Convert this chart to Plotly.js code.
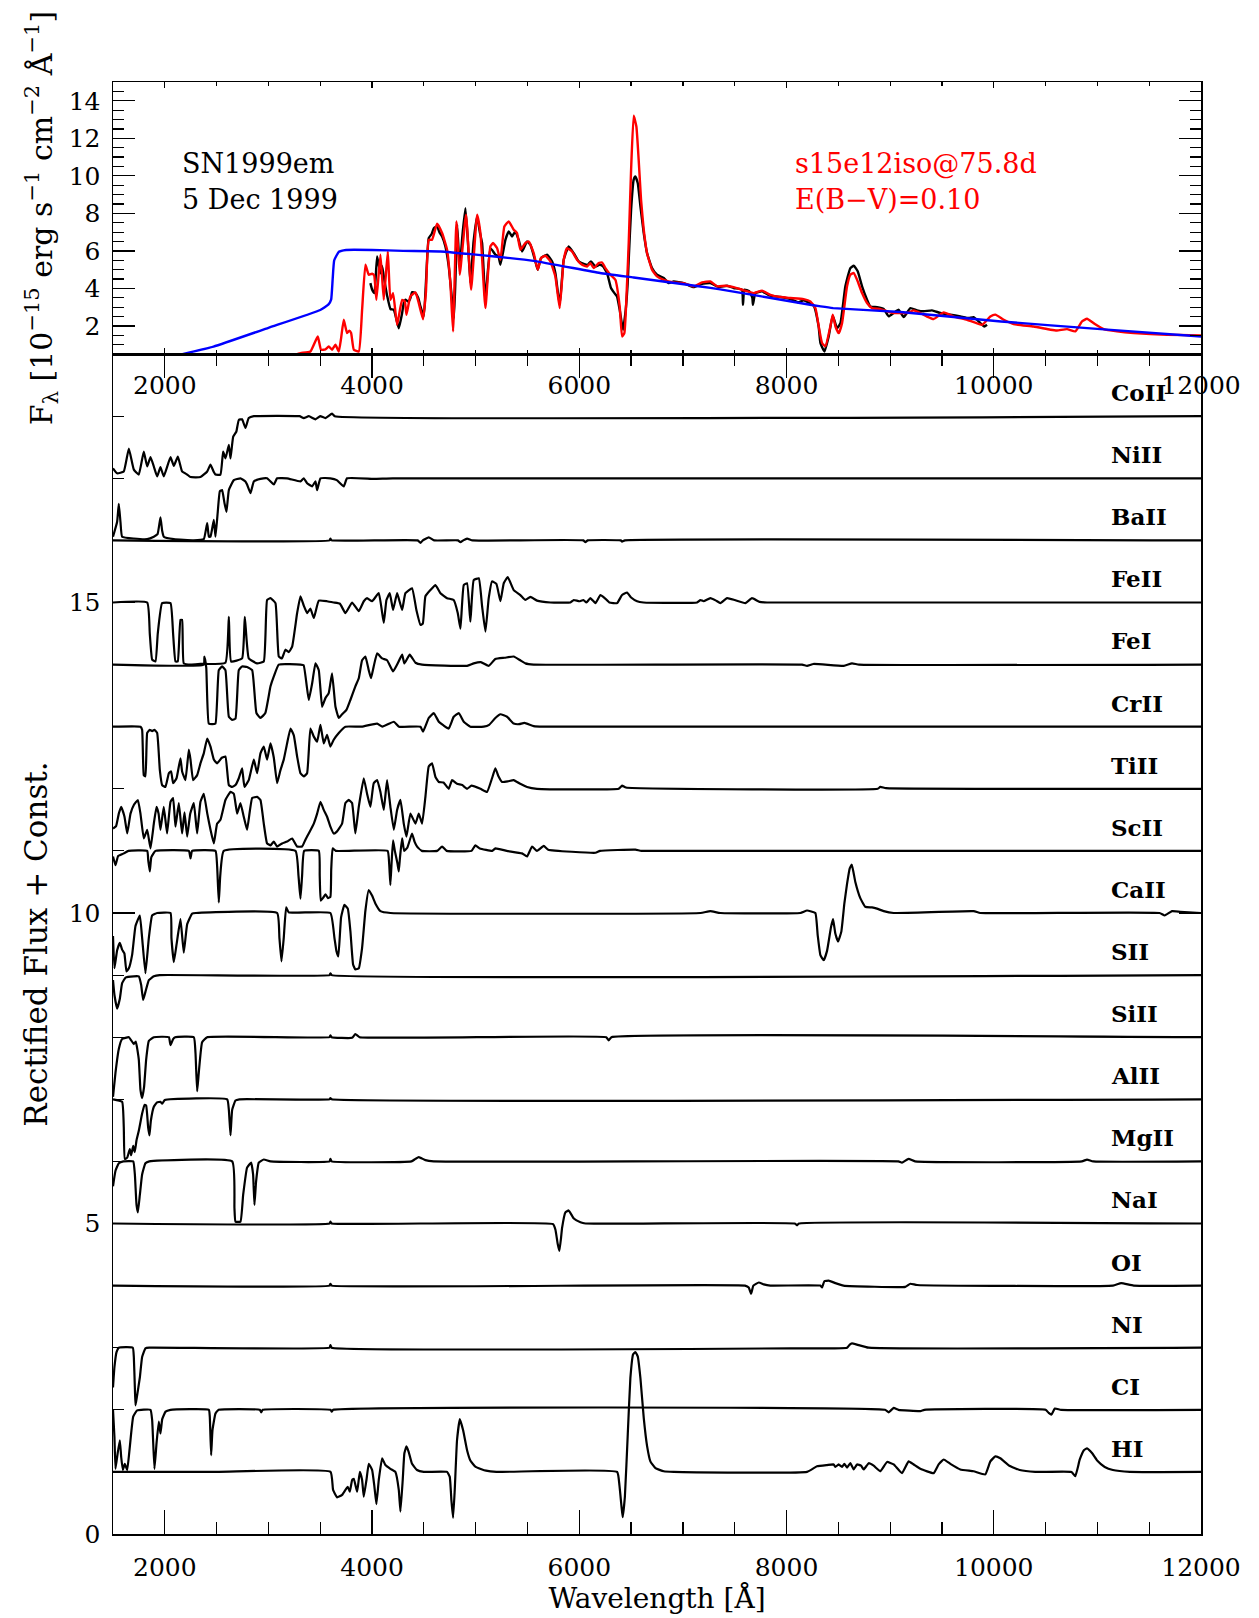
<!DOCTYPE html>
<html>
<head>
<meta charset="utf-8">
<script src="https://cdn.plot.ly/plotly-3.0.1.min.js"></script>
<style>
  html, body { margin: 0; padding: 0; background: #ffffff; }
  #chart { width: 1259px; height: 1618px; }
</style>
</head>
<body>
<div id="chart"></div>
<script>
// SN1999em, 5 Dec 1999: observed spectrum, model and continuum (upper panel),
// plus the rectified contribution of each ion, offset by one unit per ion (lower panel).

// ---------- upper panel: [wavelength (Å), F_lambda (1e-15 erg/s/cm2/Å)] ----------
const observed = [
  [3984,4.28],[4001,3.93],[4023,3.75],[4049,5.7],[4081,4.8],[4097,5.2],[4120,4.4],[4146,3.6],
  [4178,2.9],[4210,2.86],[4258,1.88],[4290,2.68],[4306,3.22],[4322,3.4],[4350,3.3],[4370,3.48],
  [4387,3.8],[4419,3.75],[4445,3.5],[4467,3.04],[4499,2.51],[4520,4.3],[4547,6.68],[4575,6.9],
  [4596,7.21],[4628,7.3],[4650,7.0],[4676,6.77],[4708,6.24],[4740,5.17],[4772,3.39],[4790,2.4],
  [4805,4.5],[4821,7.39],[4846,5.17],[4875,7.0],[4901,8.28],[4925,6.5],[4949,4.28],[4980,6.5],
  [5014,7.84],[5040,7.0],[5062,6.42],[5094,3.39],[5142,6.15],[5190,5.8],[5220,5.7],[5239,5.26],
  [5287,6.59],[5319,7.04],[5351,6.77],[5383,7.04],[5415,6.59],[5448,5.97],[5496,6.5],[5528,6.33],
  [5576,5.44],[5599,4.99],[5631,5.62],[5689,5.8],[5737,5.44],[5769,4.82],[5811,3.13],[5850,5.53],
  [5898,6.24],[5946,5.88],[5994,5.44],[6043,5.31],[6081,5.26],[6113,5.44],[6155,5.17],[6197,5.26],
  [6229,5.17],[6268,4.82],[6306,4.02],[6339,3.75],[6364,3.57],[6390,2.86],[6422,1.8],[6448,2.86],
  [6467,4.28],[6477,5.53],[6500,8.2],[6525,9.8],[6541,9.97],[6564,9.62],[6590,8.37],[6622,6.95],
  [6654,5.88],[6702,5.09],[6750,4.73],[6815,4.55],[6863,4.28],[6911,4.37],[7008,4.28],[7104,4.07],
  [7185,4.25],[7265,4.28],[7345,4.07],[7426,4.14],[7490,4.02],[7570,3.93],[7580,3.13],[7593,3.93],
  [7640,3.85],[7670,3.5],[7676,3.13],[7699,3.75],[7764,3.84],[7844,3.61],[7941,3.54],[8037,3.43],
  [8117,3.26],[8165,3.36],[8262,3.08],[8310,1.97],[8327,1.09],[8366,0.64],[8407,1.44],[8446,2.54],
  [8488,1.88],[8520,2.15],[8568,4.11],[8616,5.08],[8649,5.21],[8687,4.91],[8729,4.11],[8777,3.4],
  [8809,3.04],[8874,3.0],[8938,2.9],[8986,2.51],[9034,2.69],[9083,2.86],[9131,2.47],[9195,2.95],
  [9260,2.83],[9324,2.78],[9404,2.83],[9485,2.69],[9581,2.6],[9678,2.51],[9758,2.42],[9806,2.47],
  [9871,2.15],[9909,1.97],[9935,2.06]
];

const model = [
  [3250,0.45],[3309,0.55],[3405,0.64],[3476,1.44],[3508,0.73],[3550,0.75],[3582,0.91],[3614,0.73],
  [3647,1.0],[3679,0.64],[3700,1.3],[3727,2.33],[3759,1.62],[3780,1.75],[3798,1.62],[3824,0.73],
  [3872,0.64],[3904,2.86],[3936,5.26],[3968,4.73],[4000,4.78],[4020,4.7],[4042,3.39],[4081,5.79],
  [4113,3.39],[4152,5.97],[4177,3.39],[4203,3.75],[4242,2.06],[4290,3.39],[4316,3.31],[4332,2.6],
  [4370,3.57],[4419,3.79],[4451,3.22],[4492,2.36],[4520,3.8],[4547,6.59],[4579,6.59],[4628,7.45],
  [4676,6.95],[4724,6.06],[4756,4.28],[4782,1.71],[4814,7.57],[4846,4.73],[4907,7.93],[4956,3.93],
  [5014,7.93],[5046,6.95],[5094,2.95],[5142,6.24],[5168,6.42],[5206,6.15],[5239,5.53],[5277,7.3],
  [5319,7.57],[5367,7.13],[5399,6.95],[5432,6.06],[5480,6.42],[5512,6.5],[5560,5.88],[5599,4.99],
  [5631,5.62],[5673,5.74],[5721,5.44],[5769,4.64],[5811,2.95],[5850,5.53],[5882,6.15],[5930,5.97],
  [5978,5.53],[6027,5.26],[6075,5.17],[6107,5.35],[6139,5.08],[6187,5.35],[6220,5.38],[6252,5.08],
  [6300,4.73],[6348,4.46],[6390,3.04],[6413,1.44],[6435,1.62],[6461,4.28],[6477,6.42],[6500,10.33],
  [6525,13.2],[6551,12.63],[6573,10.86],[6596,8.73],[6622,7.13],[6654,5.88],[6702,5.0],[6750,4.64],
  [6815,4.46],[6911,4.32],[7008,4.28],[7104,4.11],[7185,4.32],[7265,4.37],[7329,4.11],[7410,4.14],
  [7490,4.07],[7587,3.9],[7683,3.75],[7764,3.88],[7844,3.66],[7941,3.54],[8037,3.49],[8165,3.43],
  [8230,3.31],[8279,2.95],[8311,1.97],[8343,1.09],[8375,0.91],[8423,1.97],[8446,2.6],[8472,1.97],
  [8504,1.62],[8536,2.15],[8584,4.11],[8616,4.73],[8649,4.82],[8681,4.46],[8729,3.75],[8777,3.22],
  [8825,2.95],[8906,2.9],[8970,2.78],[9034,2.69],[9163,2.69],[9227,2.83],[9292,2.69],[9356,2.5],
  [9420,2.37],[9517,2.72],[9613,2.5],[9742,2.33],[9887,2.06],[9967,2.5],[10015,2.6],[10096,2.33],
  [10192,2.1],[10385,1.97],[10546,1.8],[10610,1.76],[10707,1.83],[10787,1.71],[10852,2.24],[10900,2.38],
  [10964,2.15],[11061,1.83],[11189,1.71],[11350,1.62],[11672,1.53],[12000,1.5]
];

const continuum = [
  [2170,0.5],[2470,0.9],[3000,1.9],[3500,2.85],[3580,3.15],[3605,3.4],[3620,4.5],[3635,5.5],
  [3680,5.95],[3750,6.05],[4000,6.05],[4300,6.0],[4660,5.97],[5000,5.8],[5560,5.47],[6200,4.82],
  [6525,4.58],[7170,4.1],[7360,3.95],[8130,3.22],[8330,3.04],[8450,2.95],[9100,2.74],[10070,2.24],
  [11030,1.83],[12000,1.44]
];

// ---------- lower panel: rectified flux of each ion, [wavelength (Å), flux] ----------
const HI = [
  [1500,1.0],[2500,1.0],[3599,1.0],[3624,0.71],[3663,0.59],[3711,0.63],[3743,0.71],[3766,0.76],[3785,0.68],
  [3808,0.87],[3824,0.89],[3856,0.68],[3882,1.0],[3904,0.87],[3920,0.6],[3946,0.87],[3968,1.13],
  [4001,1.03],[4023,0.76],[4042,0.48],[4065,0.87],[4097,1.22],[4129,1.11],[4177,1.05],[4225,1.0],
  [4258,0.71],[4274,0.36],[4296,0.87],[4312,1.3],[4332,1.41],[4354,1.32],[4386,1.13],[4434,1.03],
  [4499,1.0],[4724,1.0],[4750,0.92],[4766,0.54],[4782,0.26],[4798,0.71],[4820,1.51],[4847,1.85],
  [4879,1.67],[4917,1.35],[4950,1.18],[5000,1.08],[5100,1.02],[5200,1.0],[6365,1.0],[6387,0.79],
  [6407,0.45],[6419,0.27],[6440,0.6],[6468,1.61],[6493,2.51],[6519,2.89],[6542,2.93],[6564,2.86],
  [6590,2.51],[6622,1.87],[6654,1.42],[6686,1.17],[6735,1.06],[6815,1.01],[6911,1.0],[8198,1.0],
  [8294,1.09],[8391,1.11],[8455,1.12],[8471,1.08],[8503,1.12],[8535,1.08],[8558,1.13],[8584,1.07],
  [8616,1.14],[8648,1.04],[8680,1.12],[8719,1.1],[8745,1.04],[8793,1.14],[8841,1.1],[8905,1.01],
  [8970,1.16],[9034,1.12],[9114,0.98],[9178,1.17],[9227,1.12],[9292,1.05],[9420,0.98],[9468,1.12],
  [9517,1.2],[9581,1.13],[9677,1.04],[9806,1.01],[9918,0.96],[9967,1.17],[10015,1.25],[10063,1.22],
  [10150,1.1],[10250,1.03],[10400,1.0],[10750,1.0],[10787,0.93],[10830,1.2],[10870,1.35],[10900,1.38],
  [10950,1.3],[11000,1.18],[11071,1.08],[11150,1.03],[11314,1.0],[12000,1.0]
];
const CI = [
  [1500,1.0],[1514,0.56],[1524,0.05],[1545,0.3],[1566,0.51],[1579,0.24],[1595,0.03],[1614,0.13],
  [1637,0.03],[1662,0.4],[1695,0.89],[1733,0.99],[1862,1.0],[1878,0.83],[1900,0.05],[1920,0.46],
  [1942,0.81],[1958,0.62],[1975,0.85],[2007,0.97],[2055,1.0],[2425,1.0],[2434,0.89],[2447,0.27],
  [2460,0.67],[2489,0.94],[2520,1.0],[2917,1.0],[2930,0.96],[2945,1.0],[3599,1.0],[3611,0.97],
  [3625,1.0],[8950,1.0],[8986,0.96],[9034,1.03],[9080,1.0],[9292,0.98],[9330,1.0],[10500,1.0],
  [10530,0.95],[10555,0.92],[10590,1.02],[10650,1.0],[12000,1.0]
];
const NI = [
  [1500,0.36],[1514,0.69],[1534,0.93],[1556,1.0],[1691,1.0],[1701,0.85],[1711,0.36],[1717,0.07],
  [1730,0.2],[1759,0.52],[1781,0.85],[1813,0.99],[1850,1.0],[3590,1.0],[3598,1.04],[3610,1.0],
  [8101,0.99],[8584,1.0],[8610,1.05],[8632,1.07],[8680,1.05],[8793,1.0],[12000,1.0]
];
const OI = [
  [1500,1.0],[3590,1.0],[3598,1.03],[3610,1.0],[7600,1.0],[7635,0.97],[7658,0.87],[7680,1.0],
  [7732,1.05],[7780,1.02],[7844,1.0],[8326,1.0],[8343,0.97],[8365,1.07],[8407,1.08],[8471,1.04],
  [8550,1.0],[9146,0.98],[9195,1.03],[9260,1.01],[11150,1.0],[11230,1.04],[11350,1.0],[12000,1.0]
];
const NaI = [
  [1500,1.0],[3590,1.0],[3598,1.03],[3610,1.0],[5747,0.99],[5770,0.9],[5792,0.67],[5808,0.56],
  [5824,0.77],[5834,0.93],[5866,1.18],[5898,1.21],[5947,1.08],[6011,1.02],[6060,1.0],[8080,1.0],
  [8101,0.97],[8120,1.0],[12000,1.0]
];
const MgII = [
  [1500,0.6],[1524,0.85],[1556,0.97],[1600,1.0],[1695,1.0],[1711,0.79],[1727,0.3],[1740,0.18],
  [1759,0.46],[1781,0.79],[1813,0.97],[1850,1.0],[2650,1.0],[2672,0.25],[2682,0.03],[2730,0.03],
  [2756,0.46],[2794,0.9],[2833,0.98],[2852,0.79],[2865,0.3],[2881,0.68],[2907,0.98],[2955,1.03],
  [3020,1.0],[3590,1.0],[3598,1.04],[3610,1.0],[4380,1.0],[4418,1.04],[4451,1.07],[4515,1.02],
  [4595,1.0],[9080,1.0],[9114,0.98],[9178,1.04],[9240,1.0],[10850,1.0],[10900,1.03],[10960,1.0],
  [12000,1.0]
];
const AlII = [
  [1500,1.0],[1588,0.96],[1604,0.55],[1614,0.04],[1637,0.06],[1662,0.2],[1675,0.1],[1695,0.25],
  [1710,0.15],[1727,0.34],[1750,0.5],[1781,0.77],[1804,0.91],[1820,0.9],[1839,0.55],[1852,0.42],
  [1865,0.65],[1894,0.88],[1925,0.95],[1958,0.96],[1975,0.93],[2000,0.99],[2602,1.0],[2618,0.83],
  [2634,0.42],[2650,0.83],[2682,0.98],[2720,1.0],[3590,1.0],[3598,1.02],[3610,1.0],[12000,1.0]
];
const SiII = [
  [1500,0.04],[1524,0.43],[1556,0.81],[1588,0.97],[1653,1.0],[1701,0.89],[1720,0.93],[1749,0.64],
  [1765,0.15],[1781,0.02],[1800,0.2],[1820,0.64],[1846,0.94],[1894,1.0],[2039,1.0],[2055,0.87],
  [2080,0.97],[2100,1.0],[2280,1.0],[2296,0.75],[2312,0.13],[2328,0.43],[2360,0.92],[2409,1.0],
  [3590,1.0],[3598,1.03],[3610,1.0],[3807,0.99],[3839,1.05],[3880,1.0],[6260,1.0],[6284,0.95],
  [6310,1.0],[12000,1.0]
];
const SII = [
  [1500,0.92],[1514,0.68],[1540,0.46],[1566,0.62],[1588,0.87],[1621,0.96],[1700,0.98],[1749,0.98],
  [1772,0.84],[1791,0.6],[1813,0.73],[1846,0.92],[1894,0.98],[1950,1.0],[3590,1.0],[3598,1.03],
  [3610,1.0],[12000,1.0]
];
const CaII = [
  [1500,0.63],[1514,0.11],[1540,0.4],[1566,0.52],[1588,0.41],[1610,0.35],[1630,0.06],[1653,0.11],
  [1685,0.33],[1717,0.79],[1759,0.96],[1781,0.6],[1813,0.03],[1846,0.6],[1878,0.96],[1926,1.0],
  [2055,1.0],[2064,0.6],[2087,0.21],[2113,0.49],[2151,0.9],[2183,0.36],[2216,0.82],[2264,0.99],
  [2300,1.0],[3084,1.0],[3106,0.6],[3126,0.22],[3148,0.6],[3171,1.09],[3196,1.01],[3598,1.0],
  [3637,0.6],[3656,0.39],[3675,0.3],[3701,0.93],[3733,1.13],[3766,1.07],[3791,0.71],[3817,0.17],
  [3839,0.09],[3872,0.11],[3904,0.44],[3936,1.04],[3968,1.37],[4000,1.28],[4033,1.15],[4081,1.03],
  [4177,1.0],[7169,1.0],[7265,1.03],[7362,1.0],[8133,1.0],[8198,1.04],[8278,1.0],[8301,0.64],
  [8327,0.32],[8359,0.24],[8391,0.39],[8429,0.77],[8449,0.9],[8471,0.67],[8497,0.54],[8529,0.7],
  [8558,1.15],[8584,1.47],[8610,1.72],[8630,1.78],[8664,1.5],[8712,1.24],[8760,1.1],[8825,1.09],
  [8873,1.07],[8938,1.03],[9034,1.0],[9806,1.03],[9870,1.0],[11600,1.0],[11650,0.96],[11720,1.03],
  [11800,1.02],[12000,1.0]
];
const ScII = [
  [1500,0.91],[1524,0.77],[1550,0.92],[1604,0.96],[1650,1.0],[1830,1.0],[1840,0.85],[1855,0.67],
  [1870,0.9],[1910,1.0],[2232,1.0],[2248,0.88],[2264,1.0],[2489,1.0],[2505,0.75],[2521,0.17],
  [2535,0.6],[2569,1.0],[3261,1.0],[3290,0.6],[3309,0.23],[3325,0.6],[3345,1.0],[3486,1.0],
  [3495,0.6],[3505,0.2],[3530,0.25],[3550,0.3],[3575,0.24],[3598,0.26],[3606,0.7],[3620,1.04],
  [3650,1.0],[4150,1.0],[4165,0.8],[4177,0.45],[4190,0.85],[4203,1.17],[4220,1.0],[4245,0.8],
  [4258,0.67],[4270,0.9],[4290,1.2],[4310,1.0],[4340,1.05],[4386,1.28],[4410,1.15],[4435,1.07],
  [4480,1.0],[4628,1.0],[4676,1.07],[4720,1.0],[4960,1.0],[4997,1.09],[5040,1.04],[5160,1.0],
  [5190,1.04],[5300,1.0],[5447,0.96],[5496,0.91],[5544,1.07],[5592,1.0],[5657,1.08],[5700,1.02],
  [6156,0.97],[6200,1.0],[6542,1.02],[6600,1.0],[12000,1.0]
];
const TiII = [
  [1500,0.36],[1530,0.4],[1556,0.6],[1579,0.71],[1611,0.55],[1637,0.28],[1669,0.6],[1701,0.74],
  [1740,0.82],[1765,0.6],[1797,0.2],[1830,0.34],[1862,0.04],[1894,0.44],[1920,0.71],[1940,0.6],
  [1958,0.34],[1990,0.71],[2022,0.28],[2055,0.79],[2080,0.85],[2103,0.39],[2135,0.77],[2167,0.28],
  [2190,0.62],[2216,0.23],[2245,0.6],[2280,0.77],[2312,0.28],[2344,0.79],[2376,0.92],[2410,0.6],
  [2441,0.34],[2473,0.12],[2505,0.44],[2537,0.5],[2585,0.82],[2634,0.95],[2666,0.92],[2698,0.6],
  [2730,0.77],[2762,0.55],[2794,0.34],[2843,0.85],[2891,0.87],[2923,0.82],[2955,0.44],[2987,0.12],
  [3020,0.09],[3052,0.15],[3084,0.07],[3132,0.12],[3180,0.15],[3229,0.2],[3277,0.07],[3325,0.07],
  [3357,0.18],[3389,0.28],[3438,0.44],[3470,0.6],[3502,0.79],[3534,0.66],[3566,0.55],[3598,0.39],
  [3630,0.28],[3660,0.31],[3711,0.44],[3743,0.77],[3775,0.82],[3807,0.77],[3839,0.28],[3872,0.71],
  [3920,1.17],[3952,0.92],[3984,0.71],[4016,1.09],[4049,1.14],[4081,0.95],[4113,0.66],[4145,1.14],
  [4177,0.71],[4210,0.34],[4242,0.66],[4274,0.82],[4306,0.44],[4332,0.23],[4370,0.6],[4419,0.44],
  [4451,0.6],[4483,0.44],[4515,0.87],[4547,1.36],[4579,1.41],[4612,1.19],[4644,1.11],[4690,1.1],
  [4740,1.0],[4772,1.14],[4820,1.08],[4870,1.06],[4917,1.0],[4960,1.05],[5046,1.0],[5110,0.95],
  [5158,1.17],[5190,1.33],[5220,1.2],[5255,1.11],[5310,1.12],[5367,1.14],[5430,1.08],[5496,1.03],
  [5592,1.0],[6380,1.0],[6413,1.05],[6450,1.02],[8880,1.0],[8905,1.03],[8960,1.01],[12000,1.0]
];
const CrII = [
  [1500,1.0],[1765,1.0],[1781,0.95],[1797,0.22],[1813,0.2],[1830,0.9],[1855,0.95],[1878,0.93],
  [1900,0.95],[1926,0.9],[1952,0.3],[1974,0.06],[2006,0.03],[2039,0.25],[2061,0.28],[2080,0.09],
  [2113,0.17],[2151,0.49],[2167,0.28],[2199,0.14],[2232,0.63],[2248,0.47],[2273,0.14],[2312,0.22],
  [2344,0.41],[2376,0.57],[2409,0.81],[2441,0.68],[2473,0.47],[2505,0.41],[2550,0.5],[2585,0.52],
  [2618,0.06],[2650,0.03],[2682,0.06],[2714,0.17],[2746,0.33],[2769,0.03],[2810,0.14],[2859,0.47],
  [2891,0.25],[2923,0.57],[2955,0.68],[2987,0.47],[3020,0.73],[3052,0.5],[3084,0.09],[3116,0.3],
  [3148,0.47],[3180,0.73],[3213,0.97],[3245,0.86],[3277,0.52],[3309,0.25],[3341,0.2],[3373,0.25],
  [3405,0.97],[3438,0.84],[3470,0.76],[3502,1.03],[3534,0.73],[3566,0.87],[3598,0.68],[3630,0.79],
  [3679,0.9],[3743,1.0],[3900,1.0],[4049,1.05],[4100,1.0],[4210,1.08],[4260,1.0],[4467,1.0],
  [4492,0.92],[4547,1.14],[4596,1.22],[4644,1.08],[4690,1.02],[4740,0.97],[4788,1.16],[4837,1.22],
  [4885,1.08],[4949,1.0],[5078,1.0],[5130,1.03],[5190,1.14],[5239,1.2],[5303,1.16],[5367,1.05],
  [5420,1.04],[5470,1.06],[5560,1.01],[5650,1.0],[12000,1.0]
];
const FeI = [
  [1500,1.0],[2376,1.0],[2382,1.13],[2400,0.95],[2424,0.05],[2457,0.04],[2489,0.05],[2521,0.91],
  [2553,0.97],[2585,0.91],[2618,0.16],[2650,0.11],[2682,0.13],[2714,0.91],[2746,0.97],[2794,0.96],
  [2843,0.91],[2884,0.22],[2923,0.14],[2970,0.22],[3020,0.65],[3052,0.81],[3100,1.0],[3309,1.0],
  [3340,0.99],[3389,0.43],[3422,0.7],[3454,1.02],[3486,0.91],[3518,0.32],[3550,0.46],[3582,0.54],
  [3614,0.86],[3647,0.32],[3679,0.14],[3711,0.2],[3753,0.27],[3791,0.43],[3839,0.65],[3872,0.78],
  [3904,1.07],[3936,1.13],[3968,0.91],[3990,0.78],[4016,0.97],[4049,1.18],[4097,1.1],[4145,1.07],
  [4203,0.89],[4242,1.0],[4290,1.16],[4312,1.02],[4364,1.16],[4419,1.03],[4483,1.0],[4917,0.98],
  [4981,1.02],[5050,1.04],[5126,0.98],[5190,1.09],[5280,1.11],[5367,1.13],[5430,1.07],[5480,1.02],
  [5560,1.0],[8150,1.0],[8198,0.98],[8260,1.01],[8552,0.98],[8632,1.02],[8700,1.0],[12000,1.0]
];
const FeII = [
  [1500,1.0],[1830,1.0],[1855,0.5],[1878,0.08],[1910,0.05],[1932,0.5],[1974,0.99],[2055,0.99],
  [2080,0.5],[2103,0.05],[2125,0.05],[2151,0.72],[2167,0.72],[2183,0.02],[2250,0.0],[2344,0.01],
  [2585,0.03],[2618,0.77],[2640,0.05],[2746,0.1],[2772,0.77],[2810,0.1],[2891,0.02],[2955,0.05],
  [2987,1.04],[3020,1.07],[3068,0.99],[3100,0.13],[3130,0.1],[3164,0.24],[3196,0.2],[3229,0.29],
  [3277,0.83],[3309,1.1],[3341,0.95],[3373,0.83],[3405,0.9],[3438,0.75],[3486,1.03],[3566,1.02],
  [3630,1.0],[3690,0.98],[3743,0.83],[3807,1.0],[3872,0.86],[3920,1.02],[3952,1.07],[4000,1.02],
  [4065,1.15],[4113,0.67],[4139,1.04],[4171,1.15],[4203,0.88],[4242,1.15],[4290,0.88],[4322,1.15],
  [4386,1.23],[4428,0.88],[4467,0.64],[4490,0.66],[4515,1.1],[4563,1.2],[4612,1.28],[4660,1.15],
  [4724,1.07],[4788,1.04],[4827,0.83],[4853,0.58],[4885,1.28],[4917,1.31],[4949,0.69],[4981,1.36],
  [5030,1.39],[5062,0.94],[5094,0.53],[5126,1.07],[5158,1.34],[5200,1.3],[5239,1.02],[5271,1.31],
  [5310,1.41],[5367,1.2],[5431,1.12],[5480,1.04],[5528,1.09],[5592,1.03],[5721,1.0],[5914,1.0],
  [5947,1.04],[6000,1.02],[6040,1.04],[6069,1.0],[6107,1.07],[6156,0.99],[6204,1.12],[6240,1.08],
  [6290,1.0],[6365,0.99],[6413,1.12],[6461,1.16],[6500,1.08],[6558,1.02],[6620,1.0],[7137,1.0],
  [7169,1.04],[7200,1.02],[7265,1.07],[7320,1.03],[7362,0.99],[7426,1.07],[7500,1.04],[7603,0.99],
  [7667,1.07],[7740,1.01],[7812,1.0],[12000,1.0]
];
const BaII = [
  [1500,1.0],[3590,1.0],[3598,1.03],[3610,1.0],[4440,1.0],[4467,0.96],[4490,1.0],[4547,1.05],
  [4600,1.0],[4830,1.0],[4853,0.97],[4880,1.0],[4917,1.03],[4970,1.0],[6040,1.0],[6059,0.97],
  [6080,1.0],[6400,1.0],[6413,0.98],[6440,1.0],[12000,1.0]
];
const NiII = [
  [1500,0.06],[1540,0.3],[1556,0.59],[1572,0.3],[1588,0.06],[1700,0.03],[1830,0.02],[1894,0.06],
  [1930,0.1],[1958,0.37],[1975,0.15],[1990,0.06],[2087,0.02],[2280,0.0],[2376,0.02],[2409,0.28],
  [2425,0.06],[2441,0.06],[2473,0.33],[2489,0.06],[2511,0.46],[2531,0.79],[2553,0.81],[2576,0.6],
  [2595,0.46],[2618,0.81],[2666,0.97],[2730,1.0],[2778,0.95],[2794,0.9],[2827,0.76],[2859,0.95],
  [2923,0.99],[2987,1.0],[3052,0.9],[3084,1.0],[3180,1.0],[3309,0.95],[3341,1.0],[3373,0.92],
  [3422,0.87],[3454,0.95],[3470,0.81],[3502,1.0],[3598,1.0],[3660,0.97],[3727,0.87],[3759,1.0],
  [4016,0.99],[4200,1.0],[12000,1.0]
];
const CoII = [
  [1500,0.16],[1540,0.08],[1604,0.11],[1653,0.48],[1701,0.14],[1749,0.06],[1797,0.43],[1830,0.19],
  [1862,0.34],[1894,0.19],[1926,0.03],[1958,0.18],[1990,0.03],[2055,0.34],[2087,0.2],[2126,0.35],
  [2167,0.11],[2216,0.06],[2248,0.02],[2344,0.02],[2409,0.11],[2441,0.22],[2473,0.1],[2489,0.06],
  [2537,0.06],[2563,0.43],[2586,0.32],[2618,0.54],[2634,0.32],[2660,0.67],[2690,0.75],[2714,0.94],
  [2746,0.95],[2778,0.81],[2810,0.97],[2859,1.0],[3300,1.0],[3341,0.97],[3390,1.0],[3454,0.95],
  [3500,1.0],[3550,0.97],[3614,1.04],[3640,1.0],[12000,1.0]
];

// stacking order, bottom to top; each ion is shifted up by its index
const ionNames = ['HI','CI','NI','OI','NaI','MgII','AlII','SiII','SII','CaII','ScII','TiII',
                  'CrII','FeI','FeII','BaII','NiII','CoII'];
const ionSpectra = [HI, CI, NI, OI, NaI, MgII, AlII, SiII, SII, CaII, ScII, TiII,
                    CrII, FeI, FeII, BaII, NiII, CoII];

// ---------- figure ----------
const SERIF = 'DejaVu Serif, Liberation Serif, serif';
const xs = a => a.map(p => p[0]);
const ys = (a, k) => a.map(p => p[1] + (k || 0));

const traces = [];
const topLine = (data, color) => ({
  type: 'scatter', mode: 'lines', x: xs(data), y: ys(data),
  xaxis: 'x', yaxis: 'y', hoverinfo: 'skip',
  line: {color: color, width: 2.4, shape: 'spline', smoothing: 0.4}
});
traces.push(topLine(observed, '#000000'));
traces.push(topLine(model, '#ff0000'));
traces.push(topLine(continuum, '#0000ff'));

ionSpectra.forEach((spec, k) => {
  traces.push({
    type: 'scatter', mode: 'lines', name: ionNames[k],
    x: xs(spec), y: ys(spec, k),
    xaxis: 'x2', yaxis: 'y2', hoverinfo: 'skip',
    line: {color: '#000000', width: 2.2, shape: 'spline', smoothing: 0.35}
  });
});

const annotations = [
  {xref: 'x', yref: 'y', x: 2151, y: 10.64, xanchor: 'left', yanchor: 'middle',
   text: 'SN1999em', showarrow: false, font: {family: SERIF, size: 27, color: '#000000'}},
  {xref: 'x', yref: 'y', x: 2151, y: 8.72, xanchor: 'left', yanchor: 'middle',
   text: '5 Dec 1999', showarrow: false, font: {family: SERIF, size: 27, color: '#000000'}},
  {xref: 'x', yref: 'y', x: 8066, y: 10.64, xanchor: 'left', yanchor: 'middle',
   text: 's15e12iso@75.8d', showarrow: false, font: {family: SERIF, size: 27, color: '#ff0000'}},
  {xref: 'x', yref: 'y', x: 8066, y: 8.72, xanchor: 'left', yanchor: 'middle',
   text: 'E(B−V)=0.10', showarrow: false, font: {family: SERIF, size: 27, color: '#ff0000'}}
];
ionNames.forEach((name, k) => {
  annotations.push({
    xref: 'x2', yref: 'y2', x: 11108, y: k + 1.38, xanchor: 'left', yanchor: 'middle',
    text: name, showarrow: false,
    font: {family: SERIF, size: 23, color: '#000000', weight: 'bold'}
  });
});

const axisBase = {
  showline: true, linecolor: '#000000', linewidth: 1.5, mirror: 'ticks',
  ticks: 'inside', tickcolor: '#000000', tickwidth: 1.3,
  showgrid: false, zeroline: false,
  tickfont: {family: SERIF, size: 25, color: '#000000'}
};

const layout = {
  width: 1259, height: 1618,
  margin: {l: 112.5, r: 58.3, t: 82.3, b: 84.2},
  paper_bgcolor: '#ffffff', plot_bgcolor: '#ffffff',
  showlegend: false,
  font: {family: SERIF, color: '#000000'},
  xaxis: Object.assign({}, axisBase, {
    domain: [0, 1], anchor: 'y', range: [1500, 12000],
    tick0: 0, dtick: 2000, tickformat: 'd', ticklen: 6, ticklabelstandoff: 8,
    minor: {ticks: 'inside', tick0: 0, dtick: 500, ticklen: 4, tickcolor: '#000000', tickwidth: 1.2}
  }),
  yaxis: Object.assign({}, axisBase, {
    domain: [0.81261, 1], anchor: 'x', range: [0.5, 15],
    tick0: 0, dtick: 2, tickformat: 'd', ticklen: 22, ticklabelstandoff: 6,
    minor: {ticks: 'inside', tick0: 0, dtick: 0.5, ticklen: 11, tickcolor: '#000000', tickwidth: 1.2},
    title: {
      text: 'F<sub>λ</sub> [10<sup>−15</sup> erg s<sup>−1</sup> cm<sup>−2</sup> Å<sup>−1</sup>]',
      font: {family: SERIF, size: 30, color: '#000000'}, standoff: 7
    }
  }),
  xaxis2: Object.assign({}, axisBase, {
    domain: [0, 1], anchor: 'y2', range: [1500, 12000],
    tick0: 0, dtick: 2000, tickformat: 'd', ticklen: 23.6, ticklabelstandoff: 10,
    minor: {ticks: 'inside', tick0: 0, dtick: 500, ticklen: 11.8, tickcolor: '#000000', tickwidth: 1.2},
    title: {text: 'Wavelength [Å]', font: {family: SERIF, size: 28, color: '#000000'}, standoff: 8}
  }),
  yaxis2: Object.assign({}, axisBase, {
    domain: [0, 0.81261], anchor: 'x2', range: [0, 19],
    tick0: 0, dtick: 5, tickformat: 'd', ticklen: 22, ticklabelstandoff: 6,
    minor: {ticks: 'inside', tick0: 0, dtick: 1, ticklen: 11, tickcolor: '#000000', tickwidth: 1.2},
    title: {text: 'Rectified Flux + Const.', font: {family: SERIF, size: 31, color: '#000000'}, standoff: 12}
  }),
  annotations: annotations
};

Plotly.newPlot('chart', traces, layout, {staticPlot: true, displayModeBar: false});
</script>
</body>
</html>
